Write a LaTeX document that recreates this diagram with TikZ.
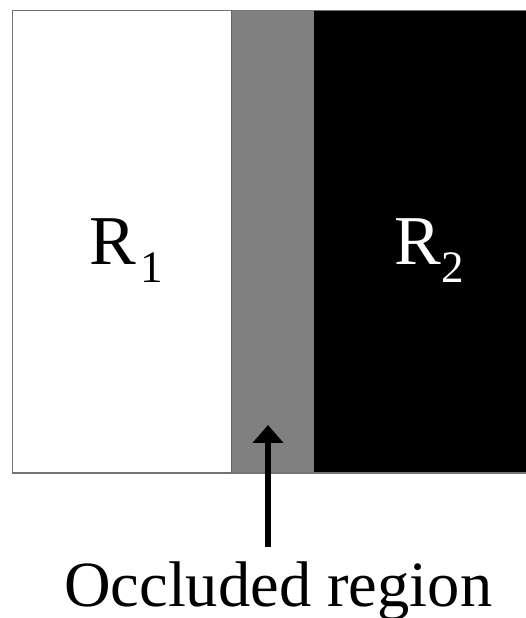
\documentclass[tikz,border=0pt]{standalone}
\usepackage{fontspec}
\setmainfont{Liberation Serif}
\usetikzlibrary{arrows.meta}
\begin{document}
\begin{tikzpicture}[x=1pt,y=1pt,
  lbl/.style={inner sep=0pt,anchor=base west,font=\fontsize{70}{70}\selectfont},
  sub/.style={inner sep=0pt,anchor=base west,font=\fontsize{45}{45}\selectfont},
  captext/.style={inner sep=0pt,anchor=base west,font=\fontsize{64.5}{64.5}\selectfont}]
\useasboundingbox (0,0) rectangle (526,618);
% regions
\fill[white] (12.5,145) rectangle (231,607.5);
\fill[black!50] (231,145) rectangle (314,607.5);
\fill[black] (314,145) rectangle (526,607.5);
\draw[black!55,line width=1.5pt] (526,145) -- (12.5,145) -- (12.5,607.5) -- (526,607.5);
\draw[black!60,line width=0.8pt] (231,145) -- (231,607.5);
% labels
\node[lbl] (r1) at (89,353) {R};
\node[sub] (s1) at (140,335) {1};
\node[lbl,text=white] (r2) at (394,353) {R};
\node[sub,text=white] (s2) at (441,335) {2};
% arrow
\node[captext] (occ) at (64,11) {Occluded region};
\coordinate (tail) at (268,71);
\coordinate (tip) at (268,193);
\draw[line width=6pt,-{Triangle[length=18pt,width=30pt]}] (tail) -- (tip);
\end{tikzpicture}
\end{document}
